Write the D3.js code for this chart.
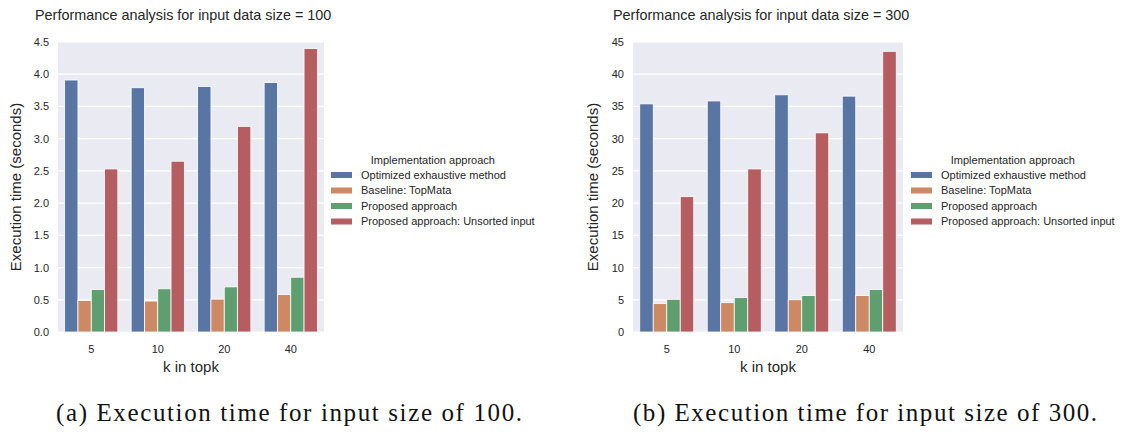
<!DOCTYPE html>
<html lang="en">
<head>
  <meta charset="utf-8">
  <title>Execution time</title>
  <script src="https://d3js.org/d3.v7.min.js"></script>
  <style>
    body { margin: 0; background: #fff; }
    svg text { font-family: "Liberation Sans", Arial, sans-serif; fill: #262626; }
    svg text.caption { font-family: "Liberation Serif", "DejaVu Serif", serif; fill: #111; }
  </style>
</head>
<body>
  <svg width="1123" height="434"></svg>
  <script>
    // k values on the x axis
    var kValues = ["5", "10", "20", "40"];
    var approaches = ["Optimized exhaustive method", "Baseline: TopMata", "Proposed approach", "Proposed approach: Unsorted input"];
    // seaborn "deep" at saturation .75
    var colors = ["#5875A4", "#CC8963", "#5F9E6E", "#B55D60"];

    // input size = 100
    var optimized100 = [3.91, 3.79, 3.81, 3.87];
    var baseline100  = [0.49, 0.48, 0.51, 0.58];
    var proposed100  = [0.66, 0.67, 0.70, 0.85];
    var unsorted100  = [2.53, 2.65, 3.19, 4.40];
    var ticks100 = [0, 0.5, 1, 1.5, 2, 2.5, 3, 3.5, 4, 4.5];

    // input size = 300
    var optimized300 = [35.4, 35.85, 36.8, 36.6];
    var baseline300  = [4.4, 4.55, 5.0, 5.65];
    var proposed300  = [5.07, 5.33, 5.65, 6.6];
    var unsorted300  = [21.0, 25.3, 30.9, 43.55];
    var ticks300 = [0, 5, 10, 15, 20, 25, 30, 35, 40, 45];

    var svg = d3.select("svg");

    function drawPanel(p) {
      var series = [p.a, p.b, p.c, p.d];
      var g = svg.append("g");

      var x0 = d3.scaleBand().domain(kValues).range([p.left, p.right]).paddingInner(0.2).paddingOuter(0.1);
      var x1 = d3.scaleBand().domain(d3.range(4)).range([0, x0.bandwidth()]);
      var y = d3.scaleLinear().domain([0, p.ymax]).range([p.bottom, p.top]);

      g.append("rect")
          .attr("x", p.left).attr("y", p.top)
          .attr("width", p.right - p.left).attr("height", p.bottom - p.top)
          .attr("fill", "#EAEAF2");

      g.selectAll(".grid").data(p.ticks).enter().append("line")
          .attr("x1", p.left).attr("x2", p.right)
          .attr("y1", function(d) { return y(d); }).attr("y2", function(d) { return y(d); })
          .attr("stroke", "#fff").attr("stroke-width", 1.2);

      var rows = [];
      series.forEach(function(vals, si) {
        vals.forEach(function(v, ki) { rows.push({s: si, k: kValues[ki], v: v}); });
      });

      g.selectAll(".bar").data(rows).enter().append("rect")
          .attr("x", function(d) { return x0(d.k) + x1(d.s); })
          .attr("width", x1.bandwidth())
          .attr("y", function(d) { return y(d.v); })
          .attr("height", function(d) { return y(0) - y(d.v); })
          .attr("fill", function(d) { return colors[d.s]; })
          .attr("stroke", "#fff").attr("stroke-width", 0.8);

      var yAxis = g.append("g")
          .attr("transform", "translate(" + (p.left - 6) + ",0)")
          .call(d3.axisLeft(y).tickValues(p.ticks).tickSize(0).tickFormat(p.fmt));
      yAxis.select(".domain").remove();
      yAxis.selectAll("text").style("font-size", "11px").style("font-family", "Liberation Sans, Arial, sans-serif").attr("fill", "#262626");

      var xAxis = g.append("g")
          .attr("transform", "translate(0," + (p.bottom + 10) + ")")
          .call(d3.axisBottom(x0).tickSize(0));
      xAxis.select(".domain").remove();
      xAxis.selectAll("text").style("font-size", "11px").style("font-family", "Liberation Sans, Arial, sans-serif").attr("fill", "#262626");

      g.append("text")
          .attr("x", (p.left + p.right) / 2).attr("y", p.bottom + 40)
          .attr("text-anchor", "middle").style("font-size", "15px")
          .text("k in topk");

      g.append("text")
          .attr("transform", "translate(" + p.ylabX + "," + ((p.top + p.bottom) / 2) + ") rotate(-90)")
          .attr("text-anchor", "middle").attr("dy", "0.35em").style("font-size", "15px")
          .text("Execution time (seconds)");

      g.append("text")
          .attr("x", p.titleX).attr("y", 20)
          .style("font-size", "14.4px")
          .text(p.title);

      // legend
      var lg = g.append("g");
      var items = lg.selectAll(".item").data(approaches).enter().append("g")
          .attr("transform", function(d, i) { return "translate(" + p.legX + "," + (175 + i * 15.5) + ")"; });
      items.append("rect")
          .attr("x", 0).attr("y", -3).attr("width", 21).attr("height", 6)
          .attr("fill", function(d, i) { return colors[i]; });
      items.append("text")
          .attr("x", 30).attr("dy", "0.35em").style("font-size", "11px")
          .text(function(d) { return d; });
      var widest = d3.max(items.selectAll("text").nodes(), function(n) { return n.getComputedTextLength(); });
      lg.append("text")
          .attr("x", p.legX + (30 + widest) / 2).attr("y", 160).attr("dy", "0.35em")
          .attr("text-anchor", "middle").style("font-size", "11px")
          .text("Implementation approach");

      // caption under the panel, sized to the width it takes in the figure
      var cap = svg.append("text").attr("class", "caption")
          .attr("x", p.capX).attr("y", 421)
          .style("font-size", "20px")
          .text(p.caption);
      var natural = cap.node().getComputedTextLength();
      var fs = Math.min(25, 20 * p.capW / natural);
      cap.style("font-size", fs + "px");
      if (cap.node().getComputedTextLength() < p.capW - 2) {
        cap.attr("textLength", p.capW).attr("lengthAdjust", "spacing");
      }
    }

    drawPanel({
      a: optimized100, b: baseline100, c: proposed100, d: unsorted100,
      ticks: ticks100, ymax: 4.5, fmt: d3.format(".1f"),
      left: 58, right: 324, top: 42, bottom: 332,
      ylabX: 16, titleX: 35, legX: 331, capX: 56, capW: 466,
      title: "Performance analysis for input data size = 100",
      caption: "(a) Execution time for input size of 100."
    });

    drawPanel({
      a: optimized300, b: baseline300, c: proposed300, d: unsorted300,
      ticks: ticks300, ymax: 45, fmt: d3.format("d"),
      left: 633, right: 903, top: 42, bottom: 332,
      ylabX: 593, titleX: 613, legX: 911, capX: 633, capW: 464,
      title: "Performance analysis for input data size = 300",
      caption: "(b) Execution time for input size of 300."
    });
  </script>
</body>
</html>
